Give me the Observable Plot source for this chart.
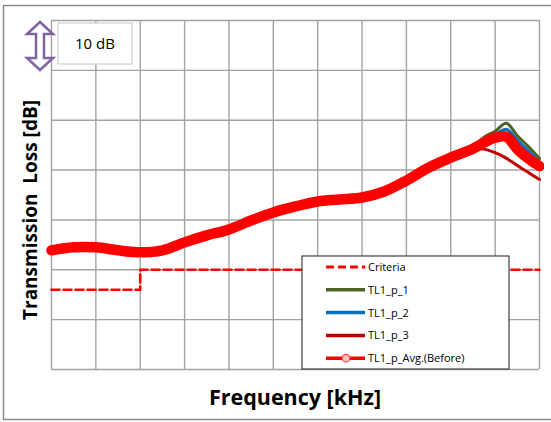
<!DOCTYPE html>
<html>
<head>
<meta charset="utf-8">
<script src="https://cdn.jsdelivr.net/npm/d3@7"></script>
<script src="https://cdn.jsdelivr.net/npm/@observablehq/plot@0.6"></script>
<style>
  html, body { margin: 0; padding: 0; background: #fff; overflow: hidden; }
  #chart { width: 551px; height: 422px; position: relative; }
  #chart svg { display: block; }
  text { font-family: "Open Sans", Lato, sans-serif; }
</style>
</head>
<body>
<div id="chart"></div>
<script>
// ---- data (frequency in grid units, TL in dB; no axis labels on the original) ----
const freq = [0, 0.5, 1, 1.5, 2, 2.5, 3, 3.5, 4, 4.5, 5, 5.5, 6, 6.5, 7, 7.5, 8, 8.5, 9, 9.5, 9.75, 10, 10.25, 10.5, 10.75, 11];
const tlAvg = [23.9, 24.5, 24.5, 23.9, 23.5, 23.9, 25.5, 26.9, 28.1, 29.9, 31.5, 32.7, 33.7, 34.1, 34.5, 35.7, 37.9, 40.5, 42.5, 44.3, 45.5, 46.5, 46.7, 44.2, 42.3, 40.8];
const tlP1  = [24.0, 24.6, 24.6, 24.0, 23.6, 24.0, 25.6, 27.0, 28.2, 30.0, 31.6, 32.8, 33.8, 34.2, 34.6, 35.8, 38.0, 40.6, 42.6, 44.8, 46.6, 47.8, 49.4, 46.9, 44.7, 42.3];
const tlP2  = [23.7, 24.3, 24.3, 23.7, 23.3, 23.7, 25.2, 26.6, 27.8, 29.5, 31.1, 32.4, 33.4, 33.8, 34.2, 35.3, 37.4, 40.0, 42.1, 44.2, 45.8, 47.1, 48.2, 46.0, 43.8, 41.5];
const tlP3  = [24.0, 24.6, 24.6, 24.0, 23.6, 24.0, 25.6, 27.0, 28.2, 30.0, 31.6, 32.8, 33.8, 34.2, 34.6, 35.8, 37.9, 40.4, 42.2, 44.2, 44.2, 43.5, 42.4, 40.9, 39.5, 38.1];
const critFreq = [0, 2, 11];
const critTL   = [16, 20, 20];
const xTicks = [0, 1, 2, 3, 4, 5, 6, 7, 8, 9, 10, 11];
const yTicks = [0, 10, 20, 30, 40, 50, 60, 70];
const seriesNames  = ["Criteria", "TL1_p_1", "TL1_p_2", "TL1_p_3", "TL1_p_Avg.(Before)"];
const seriesColors = ["#ff0000", "#4f6228", "#0070c0", "#c00000", "#ff0000"];

const toRows = (ys) => freq.map((f, i) => ({f, v: ys[i]}));
const crit = critFreq.map((f, i) => ({f, v: critTL[i]}));

const plot = Plot.plot({
  width: 551, height: 422,
  marginLeft: 51, marginRight: 12, marginTop: 20, marginBottom: 53,
  x: {domain: [0, 11], axis: null},
  y: {domain: [0, 70], axis: null},
  marks: [
    Plot.gridX(xTicks, {stroke: "#a3a3a3", strokeOpacity: 1, strokeWidth: 1.4}),
    Plot.gridY(yTicks, {stroke: "#a3a3a3", strokeOpacity: 1, strokeWidth: 1.4}),
    Plot.line(crit, {x: "f", y: "v", curve: "step-after", stroke: seriesColors[0], strokeWidth: 2.6, strokeDasharray: "8,4"}),
    Plot.line(toRows(tlP1), {x: "f", y: "v", curve: "catmull-rom", stroke: seriesColors[1], strokeWidth: 3}),
    Plot.line(toRows(tlP2), {x: "f", y: "v", curve: "catmull-rom", stroke: seriesColors[2], strokeWidth: 3}),
    Plot.line(toRows(tlP3), {x: "f", y: "v", curve: "catmull-rom", stroke: seriesColors[3], strokeWidth: 3}),
    Plot.line(toRows(tlAvg), {x: "f", y: "v", curve: "catmull-rom", stroke: seriesColors[4], strokeWidth: 10.5, strokeLinecap: "round", strokeLinejoin: "round"})
  ]
});
document.getElementById("chart").appendChild(plot);

const svg = d3.select(plot);
// cover the strip right of the plot area, then the outer chart border (top, left, bottom)
svg.append("rect").attr("x", 544).attr("y", 0).attr("width", 10).attr("height", 422).attr("fill", "#fff");
svg.append("path").attr("d", "M551,5.5 H3.5 V419.5 H551")
  .attr("fill", "none").attr("stroke", "#8a8a8a").attr("stroke-width", 1.5);

// axis titles
svg.append("text").attr("x", 295).attr("y", 405).attr("text-anchor", "middle")
  .attr("font-weight", "bold").attr("font-size", 21.5).attr("fill", "#000").text("Frequency [kHz]");
svg.append("text").attr("transform", "translate(37,210) rotate(-90)").attr("text-anchor", "middle")
  .attr("font-weight", "bold").attr("font-size", 19).attr("fill", "#000")
  .attr("xml:space", "preserve").style("white-space", "pre").text("Transmission  Loss [dB]");

// 10 dB scale marker
svg.append("polygon")
  .attr("points", "40,22 53,34 44,34 44,58 53,58 40,70 27,58 36,58 36,34 27,34")
  .attr("fill", "#fff").attr("stroke", "#8064a2").attr("stroke-width", 2.5).attr("stroke-linejoin", "miter");
svg.append("rect").attr("x", 58).attr("y", 23).attr("width", 74).attr("height", 41)
  .attr("fill", "#fff").attr("stroke", "#cfcfcf").attr("stroke-width", 1.2);
svg.append("text").attr("x", 95).attr("y", 49).attr("text-anchor", "middle")
  .attr("font-size", 15).attr("fill", "#000").text("10 dB");

// legend
const lg = svg.append("g");
lg.append("rect").attr("x", 302).attr("y", 256).attr("width", 207).attr("height", 113)
  .attr("fill", "#fff").attr("stroke", "#404040").attr("stroke-width", 1.2);
seriesNames.forEach((name, i) => {
  const yy = 267 + i * 22.8;
  lg.append("line").attr("x1", 326).attr("x2", 365).attr("y1", yy).attr("y2", yy)
    .attr("stroke", seriesColors[i]).attr("stroke-width", i === 0 ? 3 : 3.5)
    .attr("stroke-dasharray", i === 0 ? "8,4" : null);
  if (i === 4) {
    lg.append("circle").attr("cx", 346).attr("cy", yy).attr("r", 3.8)
      .attr("fill", "#ffc0c0").attr("stroke", "#ff4040").attr("stroke-width", 1.2);
  }
  lg.append("text").attr("x", 368).attr("y", yy + 4).attr("text-anchor", "start")
    .attr("font-size", 11).attr("fill", "#000").text(name);
});
</script>
</body>
</html>
